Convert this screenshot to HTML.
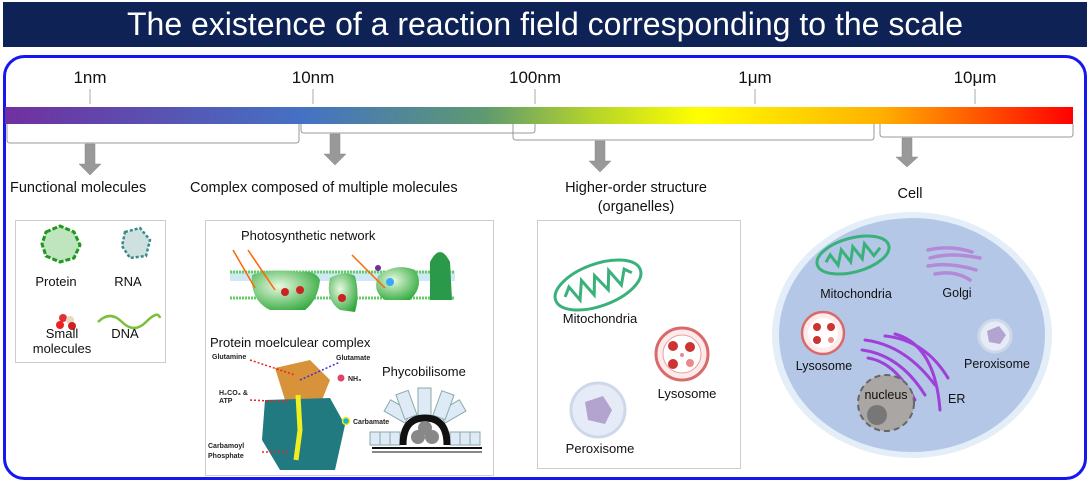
<!DOCTYPE html>
<html><head><meta charset="utf-8"><style>
body{margin:0;width:1090px;height:482px;background:#fff;overflow:hidden}
svg text{font-family:"Liberation Sans",sans-serif}
</style></head><body>
<svg width="1090" height="482" viewBox="0 0 1090 482" xmlns="http://www.w3.org/2000/svg">
<defs>
<linearGradient id="g" x1="0" x2="1">
<stop offset="0" stop-color="#7030a0"/><stop offset="0.28" stop-color="#4472c4"/>
<stop offset="0.45" stop-color="#5e9a70"/><stop offset="0.55" stop-color="#b5d42a"/>
<stop offset="0.65" stop-color="#ffff00"/><stop offset="0.82" stop-color="#ffb000"/>
<stop offset="1" stop-color="#ff0000"/></linearGradient>
<radialGradient id="gr" cx="0.4" cy="0.4" r="0.7"><stop offset="0" stop-color="#e8f8e0"/><stop offset="1" stop-color="#2ea83a"/></radialGradient>
</defs>
<rect x="3" y="2" width="1084" height="45" fill="#0e2255"/>
<text x="545" y="35" font-size="32" fill="#fff" text-anchor="middle">The existence of a reaction field corresponding to the scale</text>
<rect x="4.5" y="56.5" width="1081" height="422" rx="20" fill="none" stroke="#1616f0" stroke-width="3"/>
<g font-size="17" fill="#111" text-anchor="middle">
<text x="90" y="83">1nm</text><text x="313" y="83">10nm</text><text x="535" y="83">100nm</text><text x="755" y="83">1μm</text><text x="975" y="83">10μm</text></g>
<g stroke="#aaa" stroke-width="1"><line x1="90" y1="89" x2="90" y2="104"/><line x1="313" y1="89" x2="313" y2="104"/><line x1="535" y1="89" x2="535" y2="104"/><line x1="755" y1="89" x2="755" y2="104"/><line x1="975" y1="89" x2="975" y2="104"/></g>
<rect x="5" y="107" width="1068" height="17" fill="url(#g)"/>
<g fill="none" stroke="#999" stroke-width="1">
<path d="M7 124 V140 Q7 143 10 143 H296 Q299 143 299 140 V124"/>
<path d="M301 124 V130 Q301 133 304 133 H532 Q535 133 535 130 V124"/>
<path d="M513 124 V137 Q513 140 516 140 H871 Q874 140 874 137 V124"/>
<path d="M880 124 V134 Q880 137 883 137 H1070 Q1073 137 1073 134 V124"/>
</g>
<g fill="#999" stroke="#888" stroke-width="0.5">
<path d="M85 144 H95 V164 H101 L90 175 L79 164 H85Z"/>
<path d="M330 134 H340 V154 H346 L335 165 L324 154 H330Z"/>
<path d="M595 141 H605 V161 H611 L600 172 L589 161 H595Z"/>
<path d="M902 138 H912 V157 H918 L907 167 L896 157 H902Z"/>
</g>
<g font-size="14.5" fill="#111">
<text x="10" y="192">Functional molecules</text>
<text x="190" y="192">Complex composed of multiple molecules</text>
<text x="636" y="192" text-anchor="middle">Higher-order structure</text>
<text x="636" y="211" text-anchor="middle">(organelles)</text>
<text x="910" y="198" text-anchor="middle">Cell</text></g>
<g fill="#fff" stroke="#ccc"><rect x="15.5" y="220.5" width="150" height="142"/><rect x="205.5" y="220.5" width="288" height="255"/><rect x="537.5" y="220.5" width="203" height="248"/></g>
<!-- left box -->
<path d="M46 232 L60 226 L74 232 L80 245 L74 258 L60 262 L46 256 L42 244Z" fill="#bfe5bf" stroke="#1f9a1f" stroke-width="3" stroke-dasharray="5 2"/>
<path d="M125 232 L140 228 L150 240 L146 256 L130 258 L122 246Z" fill="#cfe0e0" stroke="#3a8a8a" stroke-width="2.5" stroke-dasharray="3 2"/>
<circle cx="63" cy="318" r="4" fill="#d33"/><circle cx="70" cy="320" r="4" fill="#e8d8c0"/><circle cx="60" cy="325" r="4" fill="#e22"/><circle cx="72" cy="326" r="4" fill="#c22"/>
<path d="M98 322 Q110 310 122 322 T146 322 T160 318" fill="none" stroke="#7cbf3a" stroke-width="2.5"/>
<g font-size="13" fill="#111" text-anchor="middle"><text x="56" y="286">Protein</text><text x="128" y="286">RNA</text><text x="62" y="338">Small</text><text x="62" y="353">molecules</text><text x="125" y="338">DNA</text></g>
<!-- middle -->
<text x="241" y="240" font-size="13" fill="#111">Photosynthetic network</text>
<rect x="230" y="271" width="225" height="10" fill="#cfe8f5"/>
<line x1="230" y1="272" x2="455" y2="272" stroke="#6c6" stroke-width="3" stroke-dasharray="2 1"/>
<line x1="230" y1="298" x2="455" y2="298" stroke="#6c6" stroke-width="3" stroke-dasharray="2 1"/>
<path d="M252 275 Q270 268 300 272 Q315 270 320 280 Q318 300 305 310 L270 310 Q250 300 252 275Z" fill="url(#gr)"/>
<path d="M330 278 Q345 270 355 276 Q360 295 355 312 L340 310 Q325 300 330 278Z" fill="url(#gr)"/>
<path d="M378 276 Q395 262 415 270 Q425 285 410 300 L385 300 Q372 292 378 276Z" fill="url(#gr)"/>
<path d="M430 262 Q440 242 450 262 L452 300 L430 300Z" fill="#2a9a4a"/>
<circle cx="285" cy="292" r="4" fill="#c22"/><circle cx="300" cy="290" r="4" fill="#c22"/><circle cx="342" cy="298" r="4" fill="#c22"/><circle cx="390" cy="282" r="4" fill="#3af"/><circle cx="378" cy="268" r="3" fill="#7a2a9a"/>
<path d="M233 250 L255 288 M248 250 L275 290 M352 255 L385 288" stroke="#f60" stroke-width="1.5" fill="none"/>
<text x="210" y="347" font-size="13" fill="#111">Protein moelculear complex</text>
<path d="M275 368 L310 360 L330 380 L320 405 L285 400Z" fill="#d8923a"/>
<path d="M265 400 L330 398 L345 425 L335 470 L280 470 L262 440Z" fill="#207a80"/>
<path d="M298 395 L300 430 L296 460" stroke="#ee2" stroke-width="5" fill="none"/>
<g stroke="#e22" stroke-width="1.5" stroke-dasharray="2 2" fill="none"><path d="M250 360 L295 375"/><path d="M250 400 L290 402"/><path d="M262 452 L290 452"/></g>
<path d="M300 380 L340 362" stroke="#33d" stroke-width="1.5" stroke-dasharray="2 2" fill="none"/>
<g font-size="7" font-weight="bold" fill="#222"><text x="212" y="359">Glutamine</text><text x="336" y="360">Glutamate</text><text x="219" y="395">H₂CO₃ &amp;</text><text x="219" y="403">ATP</text><text x="348" y="381">NH₃</text><text x="353" y="424">Carbamate</text><text x="208" y="448">Carbamoyl</text><text x="208" y="458">Phosphate</text></g>
<circle cx="341" cy="378" r="3.5" fill="#d46"/><circle cx="346" cy="421" r="3.5" fill="#2ae" stroke="#ee0" stroke-width="1.5"/>
<text x="382" y="376" font-size="13" fill="#111">Phycobilisome</text>
<g fill="#dfeaf7" stroke="#8aa"><rect x="370" y="432" width="10" height="13"/><rect x="380" y="432" width="10" height="13"/><rect x="390" y="432" width="10" height="13"/><rect x="450" y="432" width="10" height="13"/><rect x="460" y="432" width="10" height="13"/><rect x="470" y="432" width="10" height="13"/><rect x="418" y="388" width="13" height="30"/><rect x="386" y="405" width="24" height="13" transform="rotate(30 398 411)"/><rect x="440" y="405" width="24" height="13" transform="rotate(-30 452 411)"/><rect x="400" y="392" width="13" height="26" transform="rotate(-20 406 405)"/><rect x="437" y="392" width="13" height="26" transform="rotate(20 443 405)"/></g>
<path d="M403 445 Q403 418 425 418 Q447 418 447 445" fill="none" stroke="#111" stroke-width="7"/>
<circle cx="418" cy="437" r="7" fill="#888"/><circle cx="432" cy="437" r="7" fill="#888"/><circle cx="425" cy="428" r="7" fill="#888"/>
<line x1="372" y1="448" x2="482" y2="448" stroke="#111" stroke-width="2"/><line x1="372" y1="452" x2="482" y2="452" stroke="#111" stroke-width="1"/>
<!-- organelles -->
<g transform="translate(598,285) rotate(-20)"><ellipse rx="45" ry="21" fill="#fff" stroke="#3ab07a" stroke-width="3"/><path d="M-35 0 L-28 -8 L-22 8 L-14 -10 L-7 8 L0 -10 L8 8 L15 -10 L22 8 L30 -6 L36 0" fill="none" stroke="#3ab07a" stroke-width="3"/></g>
<text x="600" y="323" font-size="13" fill="#111" text-anchor="middle">Mitochondria</text>
<circle cx="682" cy="354" r="26" fill="#fdeaea" stroke="#d86a6a" stroke-width="3"/><circle cx="682" cy="354" r="19" fill="#fff" stroke="#e8a0a0"/>
<g fill="#c33"><circle cx="673" cy="346" r="5"/><circle cx="690" cy="347" r="5"/><circle cx="673" cy="364" r="5"/><circle cx="690" cy="363" r="4" fill="#e88"/><circle cx="682" cy="355" r="2" fill="#e88"/></g>
<text x="687" y="398" font-size="13" fill="#111" text-anchor="middle">Lysosome</text>
<circle cx="598" cy="410" r="27" fill="#e6ecf7" stroke="#cfd8e8" stroke-width="3"/><path d="M585 402 L603 396 L612 410 L605 424 L588 420Z" fill="#b3a3cf"/>
<text x="600" y="453" font-size="13" fill="#111" text-anchor="middle">Peroxisome</text>
<!-- cell -->
<ellipse cx="912" cy="335" rx="140" ry="123" fill="#e4eef8"/>
<ellipse cx="912" cy="335" rx="133" ry="117" fill="#b4c7e7"/>
<g transform="translate(853,255) rotate(-15)"><ellipse rx="37" ry="17" fill="#b4c7e7" stroke="#3ab07a" stroke-width="3"/><path d="M-28 0 L-22 -6 L-17 6 L-10 -8 L-4 6 L2 -8 L8 6 L14 -8 L20 6 L28 0" fill="none" stroke="#3ab07a" stroke-width="3"/></g>
<text x="856" y="298" font-size="12.5" fill="#111" text-anchor="middle">Mitochondria</text>
<g stroke="#b48ad8" stroke-width="3.5" stroke-linecap="round" fill="none"><path d="M928 250 Q950 245 972 252"/><path d="M930 258 Q950 252 980 258"/><path d="M928 266 Q950 262 976 270"/><path d="M935 274 Q955 270 970 280"/></g>
<text x="957" y="297" font-size="12.5" fill="#111" text-anchor="middle">Golgi</text>
<circle cx="823" cy="333" r="21" fill="#fdeaea" stroke="#d86a6a" stroke-width="2.5"/><circle cx="823" cy="333" r="15" fill="#fff"/><g fill="#c33"><circle cx="817" cy="327" r="4"/><circle cx="831" cy="327" r="4"/><circle cx="817" cy="340" r="4"/><circle cx="831" cy="340" r="3" fill="#e88"/></g>
<text x="824" y="370" font-size="12.5" fill="#111" text-anchor="middle">Lysosome</text>
<circle cx="995" cy="336" r="16" fill="#e6ecf7" stroke="#cfd8e8" stroke-width="3"/><path d="M987 331 L999 326 L1006 335 L1000 344 L989 342Z" fill="#b3a3cf"/>
<text x="997" y="368" font-size="12.5" fill="#111" text-anchor="middle">Peroxisome</text>
<g stroke="#a040d8" stroke-width="3" stroke-linecap="round" fill="none"><path d="M865 340 Q905 345 935 385"/><path d="M862 350 Q900 355 925 395"/><path d="M868 358 Q895 362 915 400"/><path d="M885 336 Q925 340 948 378"/><path d="M895 334 Q935 345 940 410"/></g>
<circle cx="886" cy="403" r="28" fill="#aaa6a3" stroke="#666" stroke-width="2" stroke-dasharray="6 4"/><circle cx="877" cy="415" r="10" fill="#777"/>
<text x="886" y="399" font-size="12.5" fill="#111" text-anchor="middle">nucleus</text>
<text x="948" y="403" font-size="12.5" fill="#111">ER</text>
</svg>
</body></html>
